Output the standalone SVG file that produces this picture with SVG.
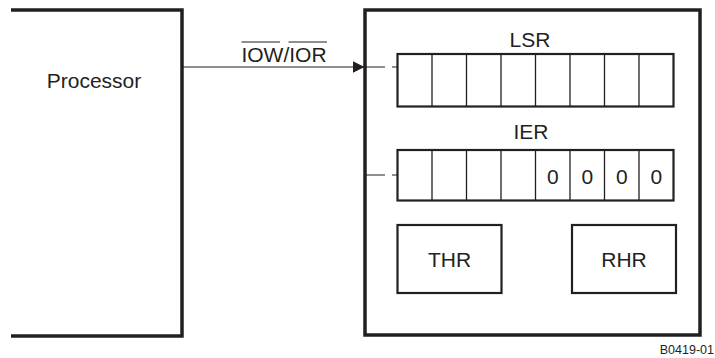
<svg xmlns="http://www.w3.org/2000/svg" width="715" height="358" viewBox="0 0 715 358">
<style>
text{font-family:"Liberation Sans",Arial,sans-serif;fill:#231f20}
.lbl{font-size:21px}
.big{fill:none;stroke:#231f20;stroke-width:3.5}
.reg{fill:#fff;stroke:#231f20;stroke-width:2.2}
.div{stroke:#231f20;stroke-width:1.3}
.wire{stroke:#231f20;stroke-width:1.2;fill:none}
</style>
<defs>
<marker id="ah" markerWidth="12" markerHeight="12" refX="12" refY="6" orient="auto" markerUnits="userSpaceOnUse">
<path d="M0,0 L12,6 L0,12 Z" fill="#231f20"/>
</marker>
</defs>
<rect width="715" height="358" fill="#fff"/>
<g id="processor">
<path class="big" d="M11,10 H182 V336 H11"/>
<text class="lbl" x="94" y="88" text-anchor="middle">Processor</text>
</g>
<g id="uart">
<rect class="big" x="365" y="10" width="335" height="325"/>
</g>
<g id="lsr">
<text class="lbl" x="530" y="46.5" text-anchor="middle">LSR</text>
<rect class="reg" x="397.5" y="54" width="276" height="52.5"/>
<path class="div" d="M432,54V106.5M466.5,54V106.5M501,54V106.5M535.5,54V106.5M570,54V106.5M604.5,54V106.5M639,54V106.5"/>
</g>
<g id="ier">
<text class="lbl" x="531" y="139" text-anchor="middle">IER</text>
<rect class="reg" x="397.5" y="150" width="276" height="50.5"/>
<path class="div" d="M432,150V200.5M466.5,150V200.5M501,150V200.5M535.5,150V200.5M570,150V200.5M604.5,150V200.5M639,150V200.5"/>
<text class="lbl" x="552.75" y="183.5" text-anchor="middle">0</text>
<text class="lbl" x="587.25" y="183.5" text-anchor="middle">0</text>
<text class="lbl" x="621.75" y="183.5" text-anchor="middle">0</text>
<text class="lbl" x="656.25" y="183.5" text-anchor="middle">0</text>
</g>
<g id="thr">
<rect class="reg" x="397.5" y="225" width="104" height="68"/>
<text class="lbl" x="449.5" y="266.5" text-anchor="middle">THR</text>
</g>
<g id="rhr">
<rect class="reg" x="572" y="225" width="104" height="68"/>
<text class="lbl" x="624" y="266.5" text-anchor="middle">RHR</text>
</g>
<g id="connectors">
<line class="wire" x1="182" y1="67" x2="364.5" y2="67" marker-end="url(#ah)"/>
<text class="lbl" x="284" y="61.5" text-anchor="middle">IOW/IOR</text>
<path class="wire" d="M241.5,42H280M288.5,42H327"/>
<path class="wire" d="M365,67H385M392,67H397.5"/>
<path class="wire" d="M365,175H385M392,175H397.5"/>
</g>
<text x="714" y="353.5" font-size="12.5" text-anchor="end">B0419-01</text>
</svg>
